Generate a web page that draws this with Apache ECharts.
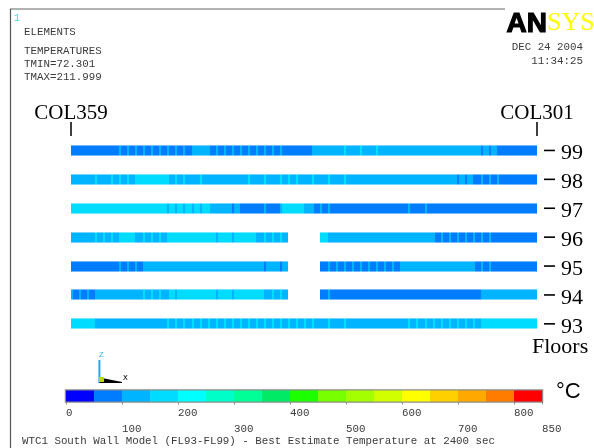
<!DOCTYPE html>
<html><head><meta charset="utf-8">
<script src="https://cdn.jsdelivr.net/npm/echarts@6/dist/echarts.min.js"></script>
<style>html,body{margin:0;padding:0;background:#fff}#c{width:594px;height:448px}</style>
</head><body><div id="c"></div>
<script>
// ---- data ----
const floors = ['93','94','95','96','97','98','99'];
const colLabels = ['COL359','COL301'];
const colPositions = [0, 58];
const nElements = 58;
// element temperatures (°C) from COL359 (left) to COL301 (right); null = no element
const t99 = [84,83,85,86,88,90, 96,97,98,97,96,98,97,96,97, 118,121, 97,96,98,97,96,97,98,97,96,95, 88,86,85, 124,126,128,130, 147,131,148,132,147, 130,128,126,125,124,123,122,122,121,120,119,118, 103,102, 92,88,86,84,83];
const t98 = [122,124,126, 147, 128, 147,148,149, 162,168,166,160, 147,146,147, 135, 146, 130,128,126, 124,125,146,127,147,128,146,147,146,130,147,128,146,126,146,125,124,123,122,121, 120,119,118,118,117,116,115,112, 103,102, 88, 97,96,97, 86,84,83,82];
const t97 = [172,174,175,176,176,175,174,173,172,170,168,165, 153,152,153,152,151, 147, 130,125, 103, 88,86,85, 97, 88, 153, 165,162, 120, 97,96,97, 86,85,84,83,83,82,82,83,84, 97, 88, 97, 86,85,84,83,82,81,80,80,79,78,78,77,76];
const t96 = [128,126,127, 146,147,148, 160,162, 130, 147,146,147, 158,162,165,166,164,160, 153, 158, 153, 165,160, 135, 147,146,147, null,null,null,null, 158, 128,127,126,125,124,123,122,121,120,118,116,114,112, 97,96,97,98,96,97,96,97, 88,86,84,83,82];
const t95 = [82,83,84,85,86,88, 96,97,97, 110,115,118,120,122,124,125,126,126,125,124,122,120,118,115, 103,108,103, null,null,null,null, 90, 96,97,96,97,98,97,96,97,98, 106,110,112,114,115,114,112,110,108, 98,97,96, 88,86,85,84,83];
const t94 = [96,97,96, 120,124,126,128,130,132, 146,147,148, 152,153, 160,164,166,164, 153, 160, 153, 162,160,158, 140, 147,146, null,null,null,null, 88, 97, 86,85,84,83,82,82,81,81,80,80,80,81,82,84,86,88,90,92, 110,115,118,120,122,124,125];
const t93 = [160,158,156, 135,132,130,128,128,130,132,135,138, 146,147,146,147,146,147,146,147,146,147,146,147,146,147,146,147,146,147,146, 140, 147, 140, 147, 138,136,135,134,135,136,138, 146,147,146,147,146,147,146,147,146, 156,158,160,162,164,166,168];
const tempsByFloor = [t93, t94, t95, t96, t97, t98, t99];
// colour scale
const bandEdges = [0,50,100,150,200,250,300,350,400,450,500,550,600,650,700,750,800,850];
const scaleLabelsTop = [0,200,400,600,800];
const scaleLabelsBottom = [100,300,500,700,850];
const scaleTicks = [0,100,200,300,400,500,600,700,800,850];
const bandColors = ['#0000ff','#007dff','#00b4ff','#00dcff','#00ffff','#00ffc8','#00ff96','#00ea66','#1cff00','#78ff00','#a4ff00','#d2ff00','#ffff00','#ffd000','#ffa800','#ff7c00','#ff0000'];

// ---- build ----
const barData = [];
tempsByFloor.forEach((arr, fi) => arr.forEach((v, i) => { if (v != null) barData.push([i, fi, v]); }));
const bandData = bandColors.map((c, k) => [bandEdges[k], bandEdges[k+1], k]);
function bandOf(v){ return Math.max(0, Math.min(16, Math.floor(v/50))); }

const mono = 'Liberation Mono';
const serif = 'Liberation Serif';
const txtCol = '#3a3a3a';

const chart = echarts.init(document.getElementById('c'), null, {renderer:'canvas', width:594, height:448});
chart.setOption({
  animation: false,
  backgroundColor: '#fff',
  grid: [
    {left: 71, width: 466, top: 136, height: 202.3, show: false},
    {left: 66, width: 476, top: 390.5, height: 11, show: true, borderColor: '#8c8c8c', borderWidth: 2.5, backgroundColor: 'transparent'}
  ],
  xAxis: [
    {gridIndex: 0, type: 'value', min: 0, max: nElements, position: 'top',
     axisLine: {show: false}, splitLine: {show: false},
     axisTick: {show: true, customValues: colPositions, length: 14, lineStyle: {color: '#000', width: 1.5}},
     axisLabel: {show: true, customValues: colPositions, margin: 12, fontFamily: serif, fontSize: 21, color: '#000',
       formatter: v => colLabels[colPositions.indexOf(v)] || ''}},
    {gridIndex: 1, type: 'value', min: 0, max: 850, position: 'bottom',
     axisLine: {show: false}, splitLine: {show: false},
     axisTick: {show: true, customValues: scaleTicks, length: 3, lineStyle: {color: '#8c8c8c', width: 1}},
     axisLabel: {show: true, customValues: scaleLabelsTop, align: 'left', margin: 6, fontFamily: mono, fontSize: 10.8, color: txtCol}},
    {gridIndex: 1, type: 'value', min: 0, max: 850, position: 'bottom',
     axisLine: {show: false}, splitLine: {show: false}, axisTick: {show: false},
     axisLabel: {show: true, customValues: scaleLabelsBottom, align: 'left', margin: 22, fontFamily: mono, fontSize: 10.8, color: txtCol}}
  ],
  yAxis: [
    {gridIndex: 0, type: 'category', data: floors, position: 'right', offset: 7,
     axisLine: {show: false}, splitLine: {show: false}, axisTick: {show: false},
     axisLabel: {margin: 0, align: 'left', formatter: v => '{d|}{n|' + v + '}',
       rich: {
         d: {width: 11, height: 1.6, backgroundColor: '#000'},
         n: {fontFamily: serif, fontSize: 22, color: '#000', padding: [6, 0, 0, 6]}
       }}},
    {gridIndex: 1, type: 'value', min: 0, max: 1, show: false}
  ],
  series: [
    {type: 'custom', xAxisIndex: 0, yAxisIndex: 0, data: barData, encode: {x: 0, y: 1},
     renderItem: function(params, api){
       const i = api.value(0), f = api.value(1), v = api.value(2);
       const p0 = api.coord([i, f]); const p1 = api.coord([i+1, f]);
       const h = 11, y = Math.round(p0[1] - h/2);
       const x0 = Math.round(p0[0]), x1 = Math.round(p1[0]), w = x1 - x0;
       const b = bandOf(v); const r = v - b*50;
       const ch = [{type: 'rect', shape: {x: x0, y: y, width: w, height: h}, style: {fill: bandColors[b]}}];
       let sb = null;
       if (r >= 45) sb = b + 1; else if (r < 5) sb = b - 1;
       if (sb != null) ch.push({type: 'rect', shape: {x: x0, y: y, width: 2, height: h}, style: {fill: bandColors[sb]}});
       ch.push({type: 'rect', shape: {x: x0, y: y, width: w, height: 1}, style: {fill: 'rgba(255,255,255,0.45)'}});
       ch.push({type: 'rect', shape: {x: x0, y: y + h - 1, width: w, height: 1}, style: {fill: 'rgba(255,255,255,0.45)'}});
       return {type: 'group', children: ch};
     }},
    {type: 'custom', xAxisIndex: 1, yAxisIndex: 1, data: bandData, encode: {x: [0,1]},
     renderItem: function(params, api){
       const a = api.coord([api.value(0), 1]); const b = api.coord([api.value(1), 0]);
       const x0 = Math.round(a[0]), x1 = Math.round(b[0]);
       return {type: 'rect', shape: {x: x0, y: a[1], width: x1 - x0, height: b[1] - a[1]}, style: {fill: bandColors[api.value(2)]}};
     }}
  ],
  graphic: [
    {type: 'line', shape: {x1: 10, y1: 9, x2: 505, y2: 9}, style: {stroke: '#666', lineWidth: 1.2}},
    {type: 'line', shape: {x1: 10.5, y1: 9, x2: 10.5, y2: 448}, style: {stroke: '#555', lineWidth: 1.2}},
    {type: 'text', left: 14, top: 13, style: {text: '1', font: '10px "Liberation Mono"', fill: '#33dddd'}},
    {type: 'text', left: 24, top: 27, style: {text: 'ELEMENTS', font: '10.8px "Liberation Mono"', fill: txtCol}},
    {type: 'text', left: 24, top: 46, style: {text: 'TEMPERATURES', font: '10.8px "Liberation Mono"', fill: txtCol}},
    {type: 'text', left: 24, top: 59, style: {text: 'TMIN=72.301', font: '10.8px "Liberation Mono"', fill: txtCol}},
    {type: 'text', left: 24, top: 72, style: {text: 'TMAX=211.999', font: '10.8px "Liberation Mono"', fill: txtCol}},
    {type: 'text', left: 506, top: 10, style: {text: 'AN', font: 'bold 28px "Liberation Sans"', fill: '#000', stroke: '#000', lineWidth: 1.2}},
    {type: 'text', left: 547, top: 10, style: {text: 'SYS', font: '26px "Liberation Serif"', fill: '#ffff00'}},
    {type: 'text', right: 11, top: 42, style: {text: 'DEC 24 2004', font: '10.8px "Liberation Mono"', fill: txtCol}},
    {type: 'text', right: 11, top: 56, style: {text: '11:34:25', font: '10.8px "Liberation Mono"', fill: txtCol}},
    {type: 'text', left: 532, top: 336, style: {text: 'Floors', font: '22px "Liberation Serif"', fill: '#000'}},
    {type: 'text', left: 556, top: 381, style: {text: '°C', font: '22px "Liberation Sans"', fill: '#000'}},
    {type: 'line', shape: {x1: 99.4, y1: 360, x2: 99.4, y2: 383}, style: {stroke: '#2aa6e6', lineWidth: 2}},
    {type: 'text', left: 99, top: 351, style: {text: 'Z', font: '8px "Liberation Mono"', fill: '#2ab8e6'}},
    {type: 'polygon', shape: {points: [[99.4, 377.5], [122, 382], [122, 383], [99.4, 383]]}, style: {fill: '#000'}},
    {type: 'rect', shape: {x: 99, y: 377, width: 5, height: 5}, style: {fill: '#b8d800'}},
    {type: 'text', left: 123, top: 374, style: {text: 'X', font: '8px "Liberation Mono"', fill: '#000'}},
    {type: 'text', left: 22, top: 436, style: {text: 'WTC1 South Wall Model (FL93-FL99) - Best Estimate Temperature at 2400 sec', font: '10.8px "Liberation Mono"', fill: txtCol}}
  ]
});
</script></body></html>
